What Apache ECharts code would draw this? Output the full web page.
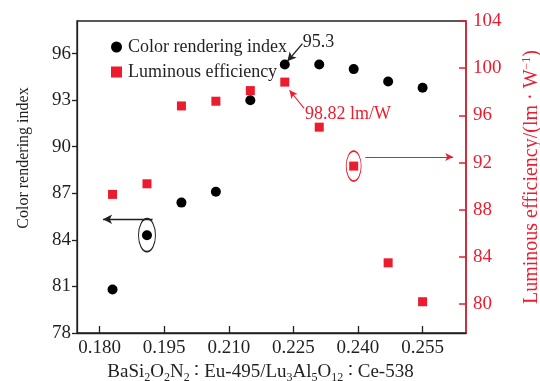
<!DOCTYPE html>
<html>
<head>
<meta charset="utf-8">
<script src="https://cdn.jsdelivr.net/npm/echarts@6.0.0/dist/echarts.min.js"></script>
<style>
  html, body { margin: 0; padding: 0; background: #fff; }
  #chart { width: 540px; height: 381px; }
</style>
</head>
<body>
<div id="chart"></div>
<script>
// ratio of BaSi2O2N2:Eu-495 in the blend
const xValues = [0.183, 0.191, 0.199, 0.207, 0.215, 0.223, 0.231, 0.239, 0.247, 0.255]
// colour rendering index (left axis)
const criValues = [80.8, 84.3, 86.4, 87.1, 93.0, 95.3, 95.3, 95.0, 94.2, 93.8]
// luminous efficiency, lm/W (right axis)
const effValues = [89.3, 90.2, 96.8, 97.2, 98.1, 98.82, 95.0, 91.7, 83.5, 80.2]

const xTicks = [0.180, 0.195, 0.210, 0.225, 0.240, 0.255]
const criTicks = [78, 81, 84, 87, 90, 93, 96]
const effTicks = [80, 84, 88, 92, 96, 100, 104]

const BLACK = '#231f20'
const RED = '#ec1c2e'
const FONT = '"Liberation Serif", "DejaVu Serif", serif'

const chart = echarts.init(document.getElementById('chart'))

const criData = xValues.map((x, i) => [x, criValues[i]])
const effData = xValues.map((x, i) => [x, effValues[i]])

chart.setOption({
  animation: false,
  backgroundColor: '#fff',
  textStyle: { fontFamily: FONT },
  grid: {
    left: 77, right: 74, top: 21, bottom: 48,
    outerBoundsMode: 'none',
    containLabel: false,
    show: true, borderColor: BLACK, borderWidth: 1.3
  },
  legend: {
    orient: 'vertical',
    left: 106,
    top: 33,
    itemGap: 7,
    itemWidth: 11,
    itemHeight: 11,
    textStyle: { fontFamily: FONT, fontSize: 18, color: BLACK, padding: [0, 0, 0, 1] },
    data: [
      { name: 'Color rendering index', icon: 'circle', itemStyle: { color: '#000', opacity: 1 } },
      { name: 'Luminous efficiency', icon: 'rect', itemStyle: { color: RED, opacity: 1 } }
    ]
  },
  xAxis: {
    type: 'value',
    min: 0.17475,
    max: 0.26508,
    name: '{n|BaSi}{s|2}{n|O}{s|2}{n|N}{s|2}{n| ∶ Eu-495/Lu}{s|3}{n|Al}{s|5}{n|O}{s|12}{n| ∶ Ce-538}',
    nameLocation: 'middle',
    nameGap: 28,
    nameTextStyle: {
      padding: [0, 22, 0, 0],
      rich: {
        n: { fontFamily: FONT, fontSize: 19, color: BLACK },
        s: { fontFamily: FONT, fontSize: 12, color: BLACK, padding: [10, 0, 0, 0] }
      }
    },
    axisLine: { lineStyle: { color: BLACK, width: 1.3 } },
    axisTick: { inside: true, length: 7, customValues: xTicks, lineStyle: { color: BLACK, width: 1.3 } },
    axisLabel: {
      customValues: xTicks,
      fontFamily: FONT, fontSize: 19, color: BLACK, margin: 6,
      formatter: v => v.toFixed(3)
    },
    splitLine: { show: false }
  },
  yAxis: [
    {
      type: 'value',
      position: 'left',
      min: 78,
      max: 98.1,
      name: 'Color rendering index',
      nameLocation: 'middle',
      nameGap: 45,
      nameTextStyle: { fontFamily: FONT, fontSize: 16, color: BLACK, padding: [0, 0, 0, 38] },
      axisLine: { show: true, lineStyle: { color: BLACK, width: 1.3 } },
      axisTick: { show: true, inside: false, length: 5, customValues: criTicks, lineStyle: { color: BLACK, width: 1.3 } },
      axisLabel: { customValues: criTicks, fontFamily: FONT, fontSize: 19, color: BLACK, margin: 6 },
      splitLine: { show: false }
    },
    {
      type: 'value',
      position: 'right',
      min: 77.55,
      max: 104,
      name: 'Luminous efficiency/(lm · W{sup|−1})',
      nameLocation: 'middle',
      nameGap: 55,
      nameTextStyle: {
        fontFamily: FONT, fontSize: 20, color: RED,
        rich: { sup: { fontFamily: FONT, fontSize: 12, color: RED, padding: [0, 0, 10, 0] } }
      },
      axisLine: { show: true, lineStyle: { color: RED, width: 1.5 } },
      axisTick: { show: true, inside: true, length: 7, customValues: effTicks, lineStyle: { color: RED, width: 1.5 } },
      axisLabel: { customValues: effTicks, fontFamily: FONT, fontSize: 19, color: RED, margin: 7 },
      splitLine: { show: false }
    }
  ],
  series: [
    {
      name: 'Color rendering index',
      type: 'scatter',
      yAxisIndex: 0,
      symbol: 'circle',
      symbolSize: 10,
      itemStyle: { color: '#000', opacity: 1 },
      data: criData,
      markPoint: {
        silent: true,
        data: [
          {
            // ellipse around the point that points to the left axis
            coord: criData[1], symbol: 'circle', symbolSize: [17, 33],
            itemStyle: { color: 'rgba(0,0,0,0)', borderColor: BLACK, borderWidth: 1.3 },
            label: { show: false }
          },
          {
            coord: [0.2272, 96.75], symbol: 'circle', symbolSize: 0,
            label: { show: true, position: 'right', distance: 0, formatter: '95.3', fontFamily: FONT, fontSize: 18, color: BLACK }
          }
        ]
      },
      markLine: {
        silent: true,
        symbol: ['none', 'arrow'],
        symbolSize: [7, 9],
        label: { show: false },
        lineStyle: { color: BLACK, width: 1.4, type: 'solid' },
        data: [
          [{ coord: [0.1923, 85.33] }, { coord: [0.1808, 85.33] }],
          [{ coord: [0.2271, 96.64] }, { coord: [0.2236, 95.5] }]
        ]
      }
    },
    {
      name: 'Luminous efficiency',
      type: 'scatter',
      yAxisIndex: 1,
      symbol: 'rect',
      symbolSize: 9,
      itemStyle: { color: RED, opacity: 1 },
      data: effData,
      markPoint: {
        silent: true,
        data: [
          {
            coord: effData[7], symbol: 'circle', symbolSize: [15, 30],
            itemStyle: { color: 'rgba(0,0,0,0)', borderColor: RED, borderWidth: 1.2 },
            label: { show: false }
          },
          {
            coord: [0.2277, 96.1], symbol: 'circle', symbolSize: 0,
            label: { show: true, position: 'right', distance: 0, formatter: '98.82 lm/W', fontFamily: FONT, fontSize: 18, color: RED }
          }
        ]
      },
      markLine: {
        silent: true,
        symbol: ['none', 'arrow'],
        symbolSize: [6, 8],
        label: { show: false },
        lineStyle: { color: RED, width: 1.1, type: 'solid' },
        data: [
          [{ coord: [0.2417, 92.47] }, { coord: [0.2621, 92.47] }],
          [{ coord: [0.2275, 96.59] }, { coord: [0.2241, 98.13] }]
        ]
      }
    }
  ]
})

window.addEventListener('resize', () => chart.resize())
</script>
</body>
</html>
